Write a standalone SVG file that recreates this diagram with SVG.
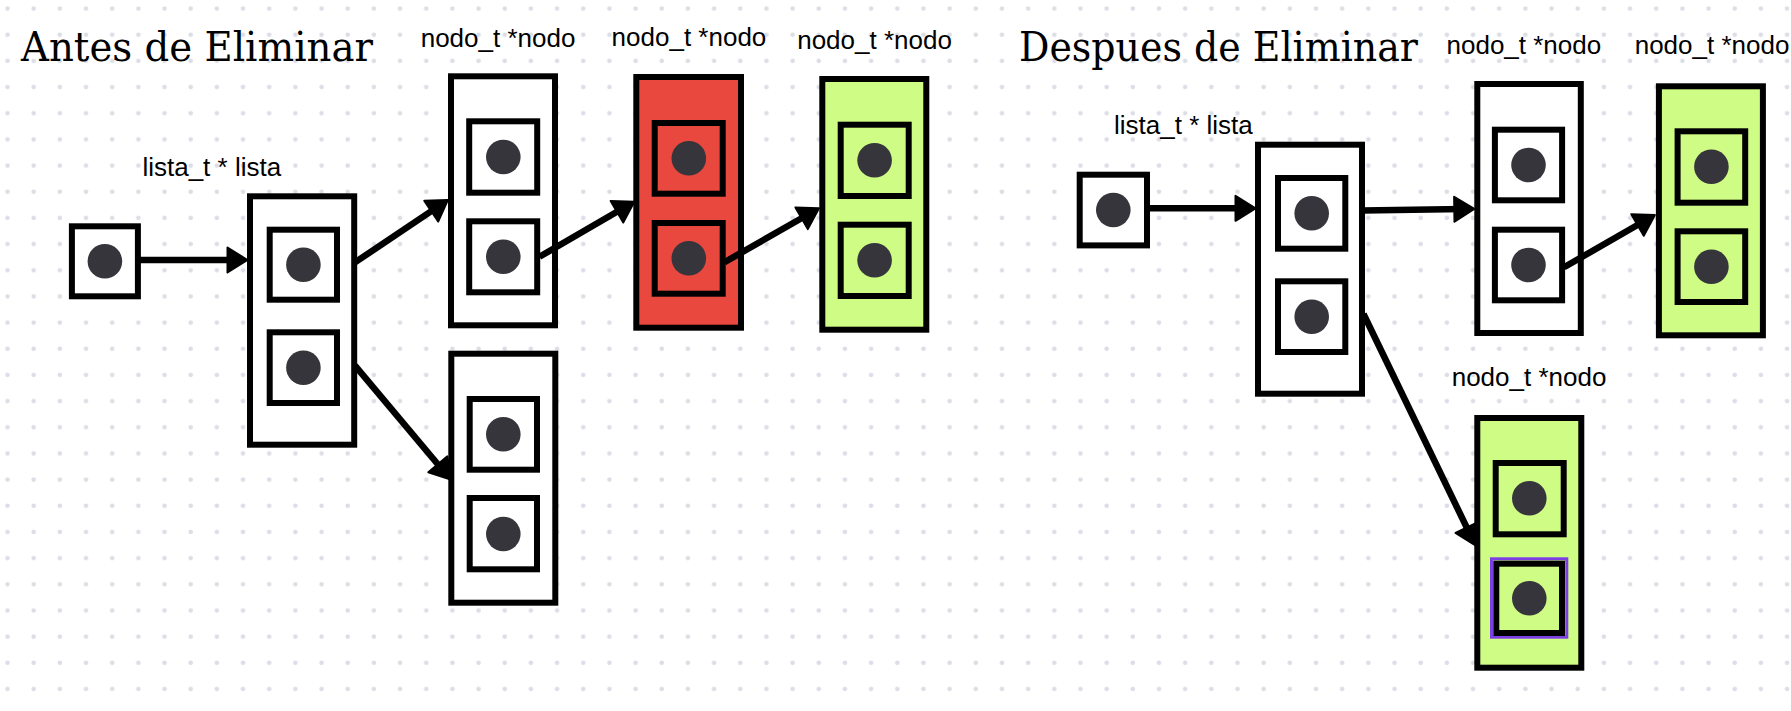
<svg xmlns="http://www.w3.org/2000/svg" width="1791" height="711" viewBox="0 0 1791 711">
<style>
.box{fill:#ffffff;stroke:#000000;stroke-width:6}
.red{fill:#e9483f}
.green{fill:#cffc84}
.cell{fill:none;stroke:#000000;stroke-width:6}
.dot{fill:#35353b}
.lbl{font-family:"Liberation Sans",Arial,sans-serif;font-size:26px;fill:#000000}
.title{font-family:"DejaVu Serif","Liberation Serif",serif;font-size:41px;fill:#000000}
.conn{fill:none;stroke:#000000;stroke-width:6.5;stroke-linecap:butt}
</style>
<defs>
<pattern id="grid" x="0" y="0" width="26.17" height="26.17" patternUnits="userSpaceOnUse">
<circle cx="7.5" cy="8.6" r="2.3" fill="#dcdee6"/>
</pattern>
<marker id="arr" markerUnits="userSpaceOnUse" markerWidth="24" markerHeight="30" refX="10" refY="0" viewBox="-2 -14 24 28" orient="auto" overflow="visible">
<path d="M0,-12.5 L20,0 L0,12.5 Z" fill="#000000" stroke="#000000" stroke-width="2" stroke-linejoin="round"/>
</marker>
</defs>
<rect x="0" y="0" width="1791" height="711" fill="#ffffff"/>
<rect x="0" y="0" width="1791" height="711" fill="url(#grid)"/>

<g id="titles">
<text class="title" x="21" y="61" textLength="352" lengthAdjust="spacingAndGlyphs">Antes de Eliminar</text>
<text class="title" x="1019" y="61" textLength="399" lengthAdjust="spacingAndGlyphs">Despues de Eliminar</text>
</g>

<g id="ptr-antes">
<rect class="box" x="71.9" y="226.3" width="66" height="70"/>
<circle class="dot" cx="104.9" cy="261.3" r="17.3"/>
</g>

<g id="lista-antes">
<text class="lbl" x="142.4" y="175.7">lista_t * lista</text>
<rect class="box" x="250" y="196.3" width="104.2" height="248.4"/>
<rect class="cell" x="269.7" y="229.7" width="67.3" height="70"/>
<circle class="dot" cx="303.4" cy="264.7" r="17.3"/>
<rect class="cell" x="269.7" y="332.3" width="67.3" height="70.7"/>
<circle class="dot" cx="303.4" cy="367.7" r="17.3"/>
</g>

<g id="nodo-a">
<text class="lbl" x="420.7" y="46.7">nodo_t *nodo</text>
<rect class="box" x="451" y="76.3" width="104" height="249"/>
<rect class="cell" x="469.2" y="121.3" width="68" height="71.4"/>
<circle class="dot" cx="503.3" cy="157" r="17.3"/>
<rect class="cell" x="469.2" y="221.3" width="68" height="71"/>
<circle class="dot" cx="503.3" cy="256.8" r="17.3"/>
</g>

<g id="nodo-rojo">
<text class="lbl" x="611.6" y="46">nodo_t *nodo</text>
<rect class="box red" x="636.3" y="77" width="104.7" height="250.7"/>
<rect class="cell" x="654.7" y="123" width="68" height="70.7"/>
<circle class="dot" cx="688.8" cy="158.3" r="17.3"/>
<rect class="cell" x="654.7" y="223" width="68" height="70.7"/>
<circle class="dot" cx="688.8" cy="258.3" r="17.3"/>
</g>

<g id="ptr-despues">
<rect class="box" x="1079.7" y="174.7" width="67.3" height="70.7"/>
<circle class="dot" cx="1113.3" cy="210" r="17.3"/>
</g>

<g id="lista-despues">
<text class="lbl" x="1114" y="134">lista_t * lista</text>
<rect class="box" x="1258" y="144.7" width="104" height="249"/>
<rect class="cell" x="1278" y="178" width="67.3" height="70.7"/>
<circle class="dot" cx="1311.7" cy="213.3" r="17.3"/>
<rect class="cell" x="1278" y="281.3" width="67.3" height="70.7"/>
<circle class="dot" cx="1311.7" cy="316.7" r="17.3"/>
</g>

<g id="nodo-c">
<text class="lbl" x="1446.5" y="54.3">nodo_t *nodo</text>
<rect class="box" x="1477.3" y="84" width="103.5" height="249"/>
<rect class="cell" x="1494.9" y="129.7" width="67.2" height="70.6"/>
<circle class="dot" cx="1528.5" cy="165" r="17.3"/>
<rect class="cell" x="1494.9" y="229.7" width="67.2" height="70.6"/>
<circle class="dot" cx="1528.5" cy="265" r="17.3"/>
</g>

<g id="connectors">
<line class="conn" x1="138" y1="260" x2="237.5" y2="260" marker-end="url(#arr)"/>
<line class="conn" x1="355" y1="262.4" x2="439.5" y2="205.6" marker-end="url(#arr)"/>
<line class="conn" x1="355" y1="365.7" x2="444.3" y2="472" marker-end="url(#arr)"/>
<line class="conn" x1="539.5" y1="256.8" x2="625.6" y2="206.7" marker-end="url(#arr)"/>
<line class="conn" x1="724.5" y1="262.2" x2="810.3" y2="213.3" marker-end="url(#arr)"/>
<line class="conn" x1="1147" y1="208.3" x2="1245.5" y2="208.3" marker-end="url(#arr)"/>
<line class="conn" x1="1362" y1="210.5" x2="1464.3" y2="209.1" marker-end="url(#arr)"/>
<line class="conn" x1="1564" y1="267.3" x2="1646.2" y2="220" marker-end="url(#arr)"/>
<line class="conn" x1="1363.5" y1="314" x2="1471.1" y2="536.5" marker-end="url(#arr)"/>
</g>

<g id="nodo-b">
<rect class="box" x="451.3" y="353.7" width="104" height="249"/>
<rect class="cell" x="469.7" y="399" width="67.3" height="70.7"/>
<circle class="dot" cx="503.3" cy="434.3" r="17.3"/>
<rect class="cell" x="469.7" y="498" width="67.3" height="71.3"/>
<circle class="dot" cx="503.3" cy="534" r="17.3"/>
</g>

<g id="nodo-verde-antes">
<text class="lbl" x="797.2" y="48.7">nodo_t *nodo</text>
<rect class="box green" x="822.3" y="79" width="104" height="250.7"/>
<rect class="cell" x="840.7" y="124.7" width="68" height="71.3"/>
<circle class="dot" cx="874.6" cy="160.3" r="17.3"/>
<rect class="cell" x="840.7" y="224.7" width="68" height="71.3"/>
<circle class="dot" cx="874.6" cy="260.3" r="17.3"/>
</g>

<g id="nodo-verde-derecha">
<text class="lbl" x="1634.7" y="54.3">nodo_t *nodo</text>
<rect class="box green" x="1658.9" y="86.3" width="104" height="249"/>
<rect class="cell" x="1677.6" y="131.3" width="67.6" height="71.4"/>
<circle class="dot" cx="1711.4" cy="166.7" r="17.3"/>
<rect class="cell" x="1677.6" y="231.3" width="67.6" height="70.7"/>
<circle class="dot" cx="1711.4" cy="266.7" r="17.3"/>
</g>

<g id="nodo-verde-abajo">
<text class="lbl" x="1451.7" y="386">nodo_t *nodo</text>
<rect class="box green" x="1477.3" y="418" width="104" height="249.7"/>
<rect class="cell" x="1495.7" y="463" width="68" height="71.3"/>
<circle class="dot" cx="1529.3" cy="498.3" r="17.3"/>
<rect x="1491.5" y="558.8" width="75.3" height="78.4" fill="none" stroke="#7b3fe4" stroke-width="3"/>
<rect class="cell" x="1496.3" y="563.7" width="65.7" height="69.3"/>
<circle class="dot" cx="1529.3" cy="598.3" r="17.3"/>
</g>
</svg>
